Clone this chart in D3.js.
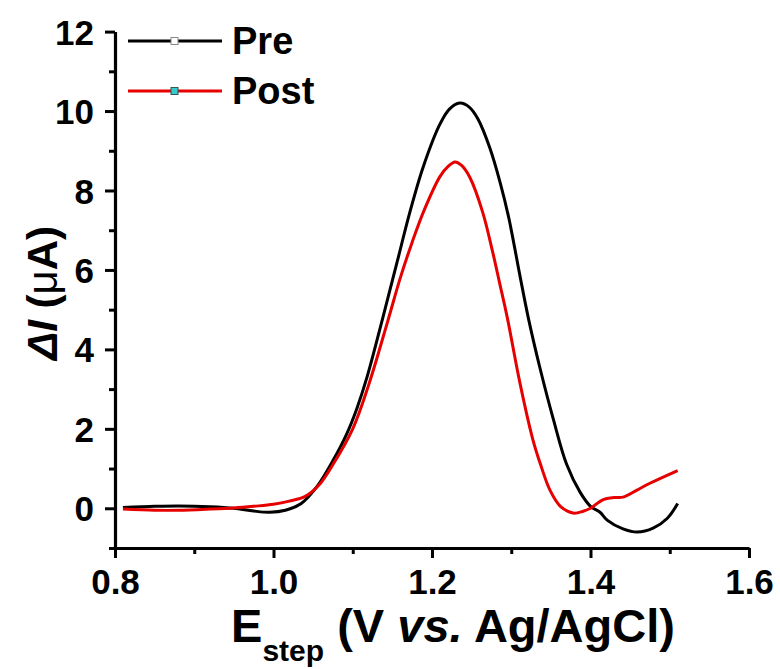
<!DOCTYPE html>
<html>
<head>
<meta charset="utf-8">
<script src="https://cdn.jsdelivr.net/npm/d3@7"></script>
<style>
  body { margin: 0; background: #fff; }
  svg { display: block; font-family: "Liberation Sans", Arial, sans-serif; font-weight: bold; }
</style>
</head>
<body>
<svg id="chart" width="780" height="669"></svg>
<script>
// potential (V) and current (uA)
const preE = [0.81, 0.85, 0.88, 0.92, 0.95, 0.975, 0.995, 1.015, 1.035, 1.055, 1.075, 1.093, 1.105, 1.118, 1.138,
  1.156, 1.172, 1.189, 1.21, 1.222, 1.235, 1.247, 1.258, 1.273, 1.286, 1.297, 1.311, 1.322, 1.336, 1.353,
  1.37, 1.387, 1.40, 1.412, 1.421, 1.441, 1.459, 1.479, 1.497, 1.51];
const preI = [0.02, 0.05, 0.06, 0.04, 0.0, -0.07, -0.1, -0.05, 0.12, 0.55, 1.2, 1.9, 2.5, 3.3, 4.8,
  6.2, 7.45, 8.6, 9.67, 10.05, 10.2, 10.1, 9.8, 9.07, 8.2, 7.3, 5.85, 4.75, 3.55, 2.25,
  1.1, 0.4, 0.05, -0.1, -0.3, -0.52, -0.6, -0.5, -0.25, 0.12];

const postE = [0.81, 0.85, 0.88, 0.92, 0.95, 0.975, 1.0, 1.02, 1.04, 1.058, 1.075, 1.1, 1.12, 1.144, 1.16,
  1.175, 1.19, 1.21, 1.22, 1.229, 1.238, 1.248, 1.264, 1.276, 1.285, 1.295, 1.311, 1.327, 1.337, 1.349,
  1.362, 1.378, 1.39, 1.40, 1.416, 1.43, 1.441, 1.458, 1.475, 1.51];
const postI = [-0.02, -0.05, -0.05, -0.02, 0.01, 0.05, 0.1, 0.18, 0.3, 0.6, 1.1, 2.0, 3.1, 4.7, 5.8,
  6.7, 7.5, 8.35, 8.6, 8.72, 8.62, 8.32, 7.45, 6.5, 5.7, 4.8, 3.15, 1.75, 1.1, 0.45,
  0.05, -0.12, -0.08, 0.0, 0.22, 0.27, 0.28, 0.45, 0.63, 0.95];

const xTicks = [0.8, 1.0, 1.2, 1.4, 1.6];
const xMinor = [0.9, 1.1, 1.3, 1.5];
const yTicks = [0, 2, 4, 6, 8, 10, 12];
const yMinor = [-1, 1, 3, 5, 7, 9, 11];

const seriesNames = ["Pre", "Post"];
const seriesColors = ["#000000", "#e60000"];
const markerFills = ["#ffffff", "#33cccc"];
const markerStrokes = ["#888888", "#335555"];

const svg = d3.select("#chart");

const x = d3.scaleLinear().domain([0.8, 1.6]).range([115, 749]);
const y = d3.scaleLinear().domain([-1, 12]).range([548, 31.6]);

// axes: major ticks labelled, minor ticks bare
const xAxis = svg.append("g").attr("transform", "translate(0," + y(-1) + ")");
xAxis.call(d3.axisBottom(x).tickValues(xTicks).tickFormat(d3.format(".1f")).tickSize(10).tickSizeOuter(0).tickPadding(11));
xAxis.append("g").call(d3.axisBottom(x).tickValues(xMinor).tickFormat("").tickSize(6).tickSizeOuter(0))
  .select(".domain").remove();

const yAxis = svg.append("g").attr("transform", "translate(" + x(0.8) + ",0)");
yAxis.call(d3.axisLeft(y).tickValues(yTicks).tickFormat(d3.format("d")).tickSize(10).tickSizeOuter(0).tickPadding(11));
yAxis.append("g").call(d3.axisLeft(y).tickValues(yMinor).tickFormat("").tickSize(6).tickSizeOuter(0))
  .select(".domain").remove();

svg.selectAll(".domain").attr("stroke", "#000").attr("stroke-width", 3.2);
svg.selectAll(".tick line").attr("stroke", "#000").attr("stroke-width", 3);
svg.selectAll(".tick text")
  .attr("fill", "#000")
  .style("font-size", "35px")
  .style("font-weight", "bold")
  .style("font-family", "'Liberation Sans', Arial, sans-serif");
xAxis.selectAll(".tick text").attr("dy", "0.71em");
yAxis.selectAll(".tick text").attr("dy", "0.36em");

// curves
const line = d3.line()
  .x(d => x(d[0]))
  .y(d => y(d[1]))
  .curve(d3.curveCatmullRom.alpha(0.5));

const series = [
  d3.zip(preE, preI),
  d3.zip(postE, postI)
];

svg.append("g").selectAll("path")
  .data(series)
  .enter().append("path")
  .attr("d", line)
  .attr("fill", "none")
  .attr("stroke", (d, i) => seriesColors[i])
  .attr("stroke-width", 3)
  .attr("stroke-linejoin", "round");

// legend
const legend = svg.append("g").selectAll(".legendItem")
  .data(seriesNames)
  .enter().append("g")
  .attr("class", "legendItem")
  .attr("transform", (d, i) => "translate(0," + (41 + i * 50) + ")");

legend.append("line")
  .attr("x1", 128).attr("x2", 222)
  .attr("y1", 0).attr("y2", 0)
  .attr("stroke", (d, i) => seriesColors[i])
  .attr("stroke-width", 3.2);

legend.append("rect")
  .attr("x", 171).attr("y", -3.5)
  .attr("width", 7).attr("height", 7)
  .attr("fill", (d, i) => markerFills[i])
  .attr("stroke", (d, i) => markerStrokes[i])
  .attr("stroke-width", 1);

legend.append("text")
  .attr("x", 232)
  .attr("y", 13)
  .style("font-size", "38px")
  .text(d => d);

// y axis title
const yTitle = svg.append("text")
  .attr("transform", "translate(57,293) rotate(-90)")
  .attr("text-anchor", "middle")
  .style("font-size", "42px");
yTitle.append("tspan").style("font-style", "italic").text("\u0394I");
yTitle.append("tspan").text(" (");
yTitle.append("tspan").style("font-weight", "normal").text("\u03bc");
yTitle.append("tspan").text("A)");

// x axis title
const xTitle = svg.append("text")
  .attr("x", 453)
  .attr("y", 642)
  .attr("text-anchor", "middle")
  .style("font-size", "47px");
xTitle.append("tspan").text("E");
xTitle.append("tspan").attr("dy", 19).style("font-size", "30px").text("step");
xTitle.append("tspan").attr("dy", -19).text(" (V ");
xTitle.append("tspan").style("font-style", "italic").text("vs.");
xTitle.append("tspan").text(" Ag/AgCl)");
</script>
</body>
</html>
